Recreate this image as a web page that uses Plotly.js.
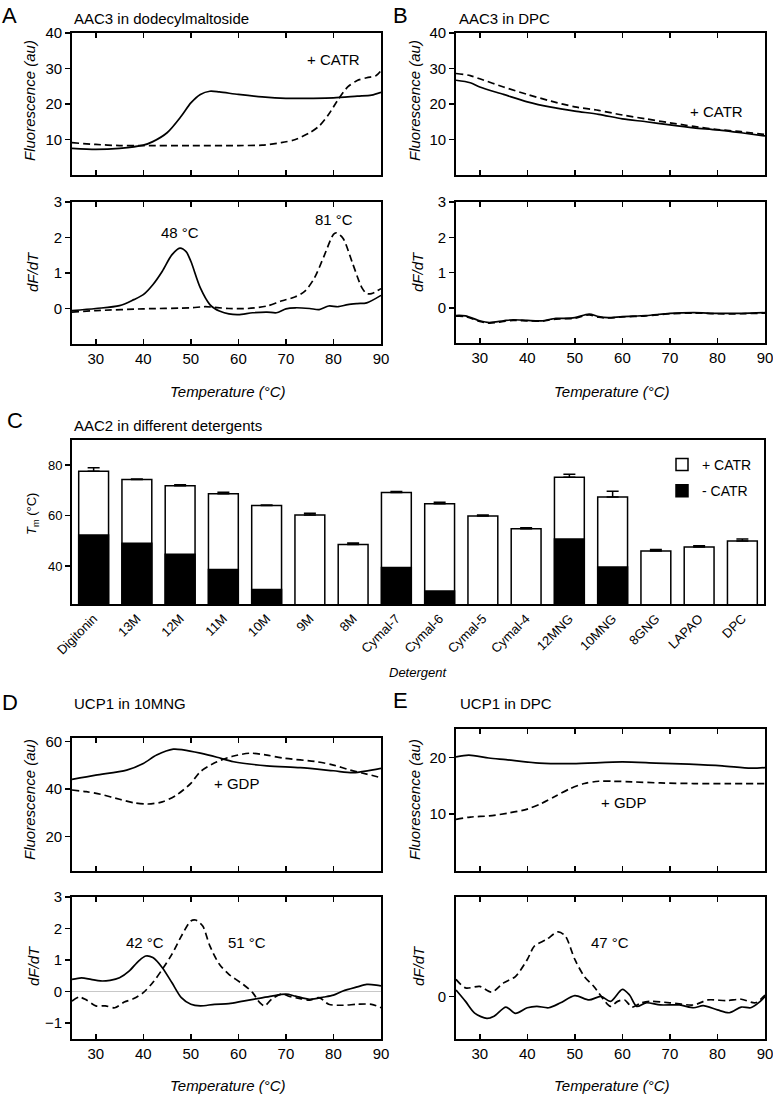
<!DOCTYPE html>
<html>
<head>
<meta charset="utf-8">
<script src="https://cdn.plot.ly/plotly-3.0.1.min.js"></script>
<style>html,body{margin:0;padding:0;background:#fff;}#chart{width:773px;height:1095px;}</style>
</head>
<body>
<div id="chart"></div>
<script>
// ---------------- DATA ----------------
// Panel A: AAC3 in dodecylmaltoside
const aTopSolidT = [25,30,35,40,42,45,48,50,52,54,56,60,65,70,75,80,85,88,90];
const aTopSolidF = [7.5,7.2,7.5,8.4,9.4,11.9,16.6,20.3,22.7,23.6,23.4,22.7,22.0,21.6,21.6,21.7,22.2,22.5,23.3];
const aTopDashT  = [25,30,35,40,50,60,65,69,72,75,77,79,81,83,85,87,89,90];
const aTopDashF  = [9.1,8.6,8.3,8.3,8.3,8.3,8.4,9.1,10.0,11.9,13.8,17.1,21.3,24.8,26.6,27.4,28.0,29.4];
const aDerSolidT = [25,30,35,38,40,42,44,46,47.7,49,50,52,54,55,56,58,60,63,66,68,70,72,75,77,79,81,83,85,87,90];
const aDerSolidV = [-0.06,0,0.08,0.25,0.39,0.67,1.05,1.51,1.70,1.60,1.33,0.58,0.11,0.0,-0.07,-0.15,-0.17,-0.12,-0.10,-0.12,-0.01,0.02,0,-0.03,0.07,0.05,0.11,0.14,0.16,0.37];
const aDerDashT  = [25,30,40,50,53,58,62,66,69,72,74,76,78,80,80.6,82,84,86,87,88,90];
const aDerDashV  = [-0.1,-0.06,-0.01,0.02,0.05,0.0,0.0,0.07,0.21,0.33,0.49,0.86,1.47,2.09,2.13,1.98,1.28,0.58,0.42,0.42,0.56];

// Panel B: AAC3 in DPC
const bTopSolidT = [25,28,30,35,40,45,50,55,60,65,70,75,80,85,90];
const bTopSolidF = [26.7,26.0,24.8,22.7,20.6,19.1,18.0,17.1,15.8,15.0,14.1,13.3,12.7,11.9,11.0];
const bTopDashT  = [25,28,30,35,40,45,50,55,60,65,70,75,80,85,90];
const bTopDashF  = [28.6,28.0,27.1,24.8,22.7,20.8,19.2,18.2,16.9,15.8,14.7,13.7,12.8,12.2,11.4];
const bDerSolidT = [25,27,30,32,35,37,40,43,46,48,50,53,55,57,60,65,70,75,80,85,90];
const bDerSolidV = [-0.22,-0.23,-0.37,-0.42,-0.37,-0.34,-0.36,-0.37,-0.30,-0.30,-0.28,-0.18,-0.25,-0.28,-0.25,-0.22,-0.16,-0.14,-0.16,-0.16,-0.14];
const bDerDashT  = [25,27,30,32,35,37,40,43,46,48,50,53,55,57,60,65,70,75,80,85,90];
const bDerDashV  = [-0.24,-0.25,-0.39,-0.44,-0.39,-0.36,-0.37,-0.38,-0.32,-0.31,-0.30,-0.20,-0.27,-0.29,-0.26,-0.23,-0.17,-0.15,-0.17,-0.17,-0.15];

// Panel C: AAC2 in different detergents
const detergents = ["Digitonin","13M","12M","11M","10M","9M","8M","Cymal-7","Cymal-6","Cymal-5","Cymal-4","12MNG","10MNG","8GNG","LAPAO","DPC"];
const tmPlusCATR  = [77.6,74.3,71.9,68.7,64.0,60.3,48.6,69.2,64.7,59.9,54.8,75.2,67.4,46.0,47.6,50.0];
const errPlusCATR = [1.4,0.2,0.4,0.6,0.2,0.7,0.6,0.4,0.6,0.4,0.4,1.2,2.3,0.6,0.5,0.8];
const tmMinusCATR = [52.3,49.1,44.7,38.7,30.7,null,null,39.5,30.2,null,null,50.8,39.7,null,null,null];

// Panel D: UCP1 in 10MNG
const dTopSolidT = [25,30,36.5,40,42.8,46.3,48.4,52,55.5,59,66,73,80,84.2,90];
const dTopSolidF = [44.1,45.9,48.0,50.8,54.3,56.8,56.5,55.1,53.4,51.5,49.8,49.0,47.7,46.9,48.7];
const dTopDashT  = [25,28,31,35,38,41,44,47,50,52,55.5,59,62.5,66,69.5,76.5,80,83.5,87,90];
const dTopDashF  = [39.6,38.9,37.8,35.7,34.2,33.7,34.6,37.5,42.4,47.3,51.5,53.9,55.1,54.3,53.0,51.5,50.1,48.0,46.3,44.8];
const dDerSolidT = [25,27,29,31,33,35,37,39,40.5,42,44,46,48,50,52,55,58,61,64,67,70,72,75,78,80,82,85,87,89,90];
const dDerSolidV = [0.39,0.44,0.39,0.34,0.36,0.44,0.65,0.97,1.13,1.08,0.76,0.29,-0.19,-0.40,-0.45,-0.40,-0.38,-0.30,-0.22,-0.14,-0.08,-0.14,-0.24,-0.17,-0.11,0.02,0.15,0.23,0.21,0.18];
const dDerDashT  = [25,26.5,28,30,32,34,36,38,40,42,44,46,48,50,51,52.5,54,56,58,61,63,64.5,65.5,67,69,71,73,75,77,79,82,85,88,90];
const dDerDashV  = [-0.30,-0.17,-0.26,-0.45,-0.45,-0.51,-0.33,-0.22,-0.03,0.29,0.71,1.18,1.76,2.24,2.27,2.08,1.45,0.87,0.55,0.23,-0.03,-0.35,-0.45,-0.24,-0.08,-0.16,-0.22,-0.27,-0.19,-0.40,-0.43,-0.40,-0.40,-0.51];

// Panel E: UCP1 in DPC
const eTopSolidT = [25,27.7,31.9,35.5,42.5,49.5,60,67,74,81,87,90];
const eTopSolidF = [20.1,20.4,19.9,19.6,19.0,18.9,19.2,19.0,18.8,18.5,18.1,18.2];
const eTopDashT  = [25,28,32,36,40,43,46,49,52,55,58,62,68,75,82,90];
const eTopDashF  = [9.1,9.5,9.7,10.2,10.9,11.9,13.2,14.5,15.4,15.8,15.8,15.7,15.5,15.4,15.4,15.4];
const eDerSolidT = [25,27,29,31.5,33,35.5,37.5,40,42,44.5,47,50,53,55.5,57.5,60,61.5,63,65,68,72,75,77,80,82.5,85,87,89,90];
const eDerSolidV = [0.09,-0.07,-0.24,-0.31,-0.28,-0.15,-0.24,-0.16,-0.14,-0.16,-0.09,0.01,-0.05,0,-0.07,0.10,0.02,-0.14,-0.09,-0.12,-0.12,-0.16,-0.13,-0.19,-0.23,-0.15,-0.16,-0.07,0];
const eDerDashT  = [25,27,30,32.5,35,37.5,40,41.5,44,46.5,48,50,52,54,56,57.5,59,60.5,62,64,66,70,75,78,82,85,88,90];
const eDerDashV  = [0.24,0.12,0.14,0.06,0.19,0.28,0.52,0.71,0.80,0.91,0.85,0.52,0.28,0.14,-0.04,-0.14,-0.07,-0.05,-0.15,-0.09,-0.07,-0.09,-0.12,-0.05,-0.06,-0.04,-0.09,0.02];

const tempTicks = [30,40,50,60,70,80,90];

// ---------------- LAYOUT HELPERS ----------------
const W = 773, H = 1095;
const FONT = "Liberation Sans, Arial, sans-serif";
const px = v => v / W;
const py = v => 1 - v / H;
const xd = (a, b) => [px(a), px(b)];
const yd = (top, bot) => [py(bot), py(top)];
const LW = 1.9;

function xAxis(dom, anchor, labels) {
  return {domain: dom, anchor: anchor, range: [25, 90], tickvals: tempTicks,
    ticks: 'inside', ticklen: 5, tickwidth: 1.5, tickcolor: '#000',
    showline: true, linecolor: '#000', linewidth: LW, mirror: 'ticks',
    showgrid: false, zeroline: false, showticklabels: labels, ticklabeloverflow: 'allow',
    tickfont: {size: 15, color: '#000'}, fixedrange: true};
}
function yAxis(dom, anchor, range, ticks, extra) {
  return Object.assign({domain: dom, anchor: anchor, range: range, tickvals: ticks,
    ticks: 'outside', ticklen: 5, tickwidth: 1.5, tickcolor: '#000',
    showline: true, linecolor: '#000', linewidth: LW, mirror: true,
    showgrid: false, zeroline: false, tickfont: {size: 15, color: '#000'}, fixedrange: true}, extra || {});
}
function yRight(over, anchor, range, ticks) {
  return {overlaying: over, anchor: anchor, side: 'right', range: range, tickvals: ticks,
    ticks: 'inside', ticklen: 5, tickwidth: 1.5, tickcolor: '#000', showline: false,
    showticklabels: false, showgrid: false, zeroline: false, fixedrange: true};
}

function line(t, v, xa, ya, dashed) {
  return {x: t, y: v, xaxis: xa, yaxis: ya, type: 'scatter', mode: 'lines',
    line: {color: '#000', width: 1.7, dash: dashed ? '7px,4px' : 'solid', shape: 'spline', smoothing: 0.8},
    showlegend: false, hoverinfo: 'skip'};
}

const LEFT = xd(72, 381), RIGHT = xd(456, 765);

const ranges = {
  aTop: [0, 40], aDer: [-1, 3], bTop: [0, 40], bDer: [-1, 3], c: [25, 90],
  dTop: [5.5, 61.5], dDer: [-1.5, 3], eTop: [0, 25], eDer: [-0.6, 1.4]
};

const data = [
  line(aTopSolidT, aTopSolidF, 'x', 'y', false),
  line(aTopDashT, aTopDashF, 'x', 'y', true),
  line(aDerSolidT, aDerSolidV, 'x2', 'y2', false),
  line(aDerDashT, aDerDashV, 'x2', 'y2', true),
  line(bTopSolidT, bTopSolidF, 'x3', 'y3', false),
  line(bTopDashT, bTopDashF, 'x3', 'y3', true),
  line(bDerSolidT, bDerSolidV, 'x4', 'y4', false),
  line(bDerDashT, bDerDashV, 'x4', 'y4', true),
  {x: detergents, y: tmPlusCATR, type: 'bar', xaxis: 'x5', yaxis: 'y5', name: '+ CATR',
   width: 0.69, marker: {color: '#fff', line: {color: '#000', width: 1.5}},
   error_y: {type: 'data', symmetric: false, array: errPlusCATR, arrayminus: errPlusCATR.map(() => 0),
             color: '#000', thickness: 1.5, width: 6}, hoverinfo: 'skip', legendgroup: 'p'},
  {x: detergents, y: tmMinusCATR, type: 'bar', xaxis: 'x5', yaxis: 'y5', name: '- CATR',
   width: 0.69, marker: {color: '#000', line: {color: '#000', width: 1.5}}, hoverinfo: 'skip', legendgroup: 'm'},
  line(dTopSolidT, dTopSolidF, 'x6', 'y6', false),
  line(dTopDashT, dTopDashF, 'x6', 'y6', true),
  line(dDerSolidT, dDerSolidV, 'x7', 'y7', false),
  line(dDerDashT, dDerDashV, 'x7', 'y7', true),
  line(eTopSolidT, eTopSolidF, 'x8', 'y8', false),
  line(eTopDashT, eTopDashF, 'x8', 'y8', true),
  line(eDerSolidT, eDerSolidV, 'x9', 'y9', false),
  line(eDerDashT, eDerDashV, 'x9', 'y9', true)
];

function txt(text, x, y, opts) {
  return Object.assign({text: text, x: px(x), y: py(y), xref: 'paper', yref: 'paper',
    showarrow: false, xanchor: 'center', yanchor: 'middle',
    font: {family: FONT, size: 15, color: '#000'}}, opts || {});
}
function dtxt(text, x, y, xr, yr, opts) {
  return Object.assign({text: text, x: x, y: y, xref: xr, yref: yr, showarrow: false,
    xanchor: 'center', yanchor: 'middle', font: {family: FONT, size: 15, color: '#000'}}, opts || {});
}
const big = {font: {family: FONT, size: 22, color: '#000'}, xanchor: 'left'};
const left = {xanchor: 'left'};
const rot = {textangle: -90};

const annotations = [
  txt('A', 0, 15, big), txt('AAC3 in dodecylmaltoside', 72, 18, left),
  txt('B', 391, 15, big), txt('AAC3 in DPC', 457, 18, left),
  txt('C', 5, 420, big), txt('AAC2 in different detergents', 72, 426, left),
  txt('D', 0, 702, big), txt('UCP1 in 10MNG', 72, 703, left),
  txt('E', 391, 700, big), txt('UCP1 in DPC', 458, 703, left),
  txt('<i>Fluorescence (au)</i>', 29, 101, rot),
  txt('<i>dF/dT</i>', 33, 272, rot),
  txt('<i>Fluorescence (au)</i>', 414, 101, rot),
  txt('<i>dF/dT</i>', 418, 272, rot),
  txt('<i>Temperature (°C)</i>', 227, 392),
  txt('<i>Temperature (°C)</i>', 611, 392),
  txt('<i>T</i><sub>m</sub> (°C)', 32, 514, Object.assign({font: {family: FONT, size: 13, color: '#000'}}, rot)),
  txt('<i>Detergent</i>', 418, 672, {font: {family: FONT, size: 13, color: '#000'}}),
  txt('<i>Fluorescence (au)</i>', 29, 800, rot),
  txt('<i>dF/dT</i>', 33, 966, rot),
  txt('<i>Fluorescence (au)</i>', 414, 800, rot),
  txt('<i>dF/dT</i>', 418, 966, rot),
  txt('<i>Temperature (°C)</i>', 227, 1085),
  txt('<i>Temperature (°C)</i>', 611, 1085),
  dtxt('+ CATR', 80, 32.5, 'x', 'y'),
  dtxt('48 °C', 47.7, 2.15, 'x2', 'y2'),
  dtxt('81 °C', 80.2, 2.5, 'x2', 'y2'),
  dtxt('+ CATR', 79.8, 18.0, 'x3', 'y3'),
  dtxt('+ GDP', 59.7, 42.4, 'x6', 'y6'),
  dtxt('42 °C', 40.4, 1.55, 'x7', 'y7'),
  dtxt('51 °C', 61.8, 1.55, 'x7', 'y7'),
  dtxt('+ GDP', 60.3, 12.0, 'x8', 'y8'),
  dtxt('47 °C', 57.4, 0.76, 'x9', 'y9')
];

const layout = {
  width: W, height: H, margin: {l: 0, r: 0, t: 0, b: 0},
  paper_bgcolor: '#fff', plot_bgcolor: 'rgba(0,0,0,0)',
  font: {family: FONT, color: '#000'},
  barmode: 'overlay', showlegend: true,
  legend: {x: px(662), y: py(449), xanchor: 'left', yanchor: 'top', bgcolor: 'rgba(0,0,0,0)',
           font: {size: 14, color: '#000'}, tracegroupgap: 5, itemclick: false, itemdoubleclick: false},
  xaxis: xAxis(LEFT, 'y', false),
  yaxis: yAxis(yd(33, 175), 'x', ranges.aTop, [10, 20, 30, 40]),
  xaxis2: xAxis(LEFT, 'y2', true),
  yaxis2: yAxis(yd(202, 344), 'x2', ranges.aDer, [0, 1, 2, 3]),
  xaxis3: xAxis(RIGHT, 'y3', false),
  yaxis3: yAxis(yd(33, 175), 'x3', ranges.bTop, [10, 20, 30, 40]),
  xaxis4: xAxis(RIGHT, 'y4', true),
  yaxis4: yAxis(yd(202, 343), 'x4', ranges.bDer, [0, 1, 2, 3]),
  xaxis5: {domain: xd(72, 764), anchor: 'y5', type: 'category', range: [-0.5, 15.5],
           ticks: '', tickangle: -45, tickfont: {size: 13, color: '#000'},
           showline: true, linecolor: '#000', linewidth: LW, mirror: true, showgrid: false, zeroline: false, fixedrange: true},
  yaxis5: yAxis(yd(440, 604), 'x5', ranges.c, [40, 60, 80], {tickfont: {size: 13, color: '#000'}}),
  xaxis6: xAxis(LEFT, 'y6', false),
  yaxis6: yAxis(yd(738, 871), 'x6', ranges.dTop, [20, 40, 60]),
  xaxis7: xAxis(LEFT, 'y7', true),
  yaxis7: yAxis(yd(897, 1039), 'x7', ranges.dDer, [-1, 0, 1, 2, 3],
                {zeroline: true, zerolinecolor: '#c8c8c8', zerolinewidth: 1}),
  xaxis8: xAxis(RIGHT, 'y8', false),
  yaxis8: yAxis(yd(729, 871), 'x8', ranges.eTop, [10, 20]),
  xaxis9: xAxis(RIGHT, 'y9', true),
  yaxis9: yAxis(yd(897, 1039), 'x9', ranges.eDer, [0]),
  yaxis11: yRight('y', 'x', ranges.aTop, [10, 20, 30, 40]),
  yaxis12: yRight('y2', 'x2', ranges.aDer, [0, 1, 2, 3]),
  yaxis13: yRight('y3', 'x3', ranges.bTop, [10, 20, 30, 40]),
  yaxis14: yRight('y4', 'x4', ranges.bDer, [0, 1, 2, 3]),
  yaxis16: yRight('y6', 'x6', ranges.dTop, [20, 40, 60]),
  yaxis17: yRight('y7', 'x7', ranges.dDer, [-1, 0, 1, 2, 3]),
  yaxis18: yRight('y8', 'x8', ranges.eTop, [10, 20]),
  yaxis19: yRight('y9', 'x9', ranges.eDer, [0]),
  annotations: annotations
};

Plotly.newPlot('chart', data, layout, {staticPlot: true, displayModeBar: false});
</script>
</body>
</html>
